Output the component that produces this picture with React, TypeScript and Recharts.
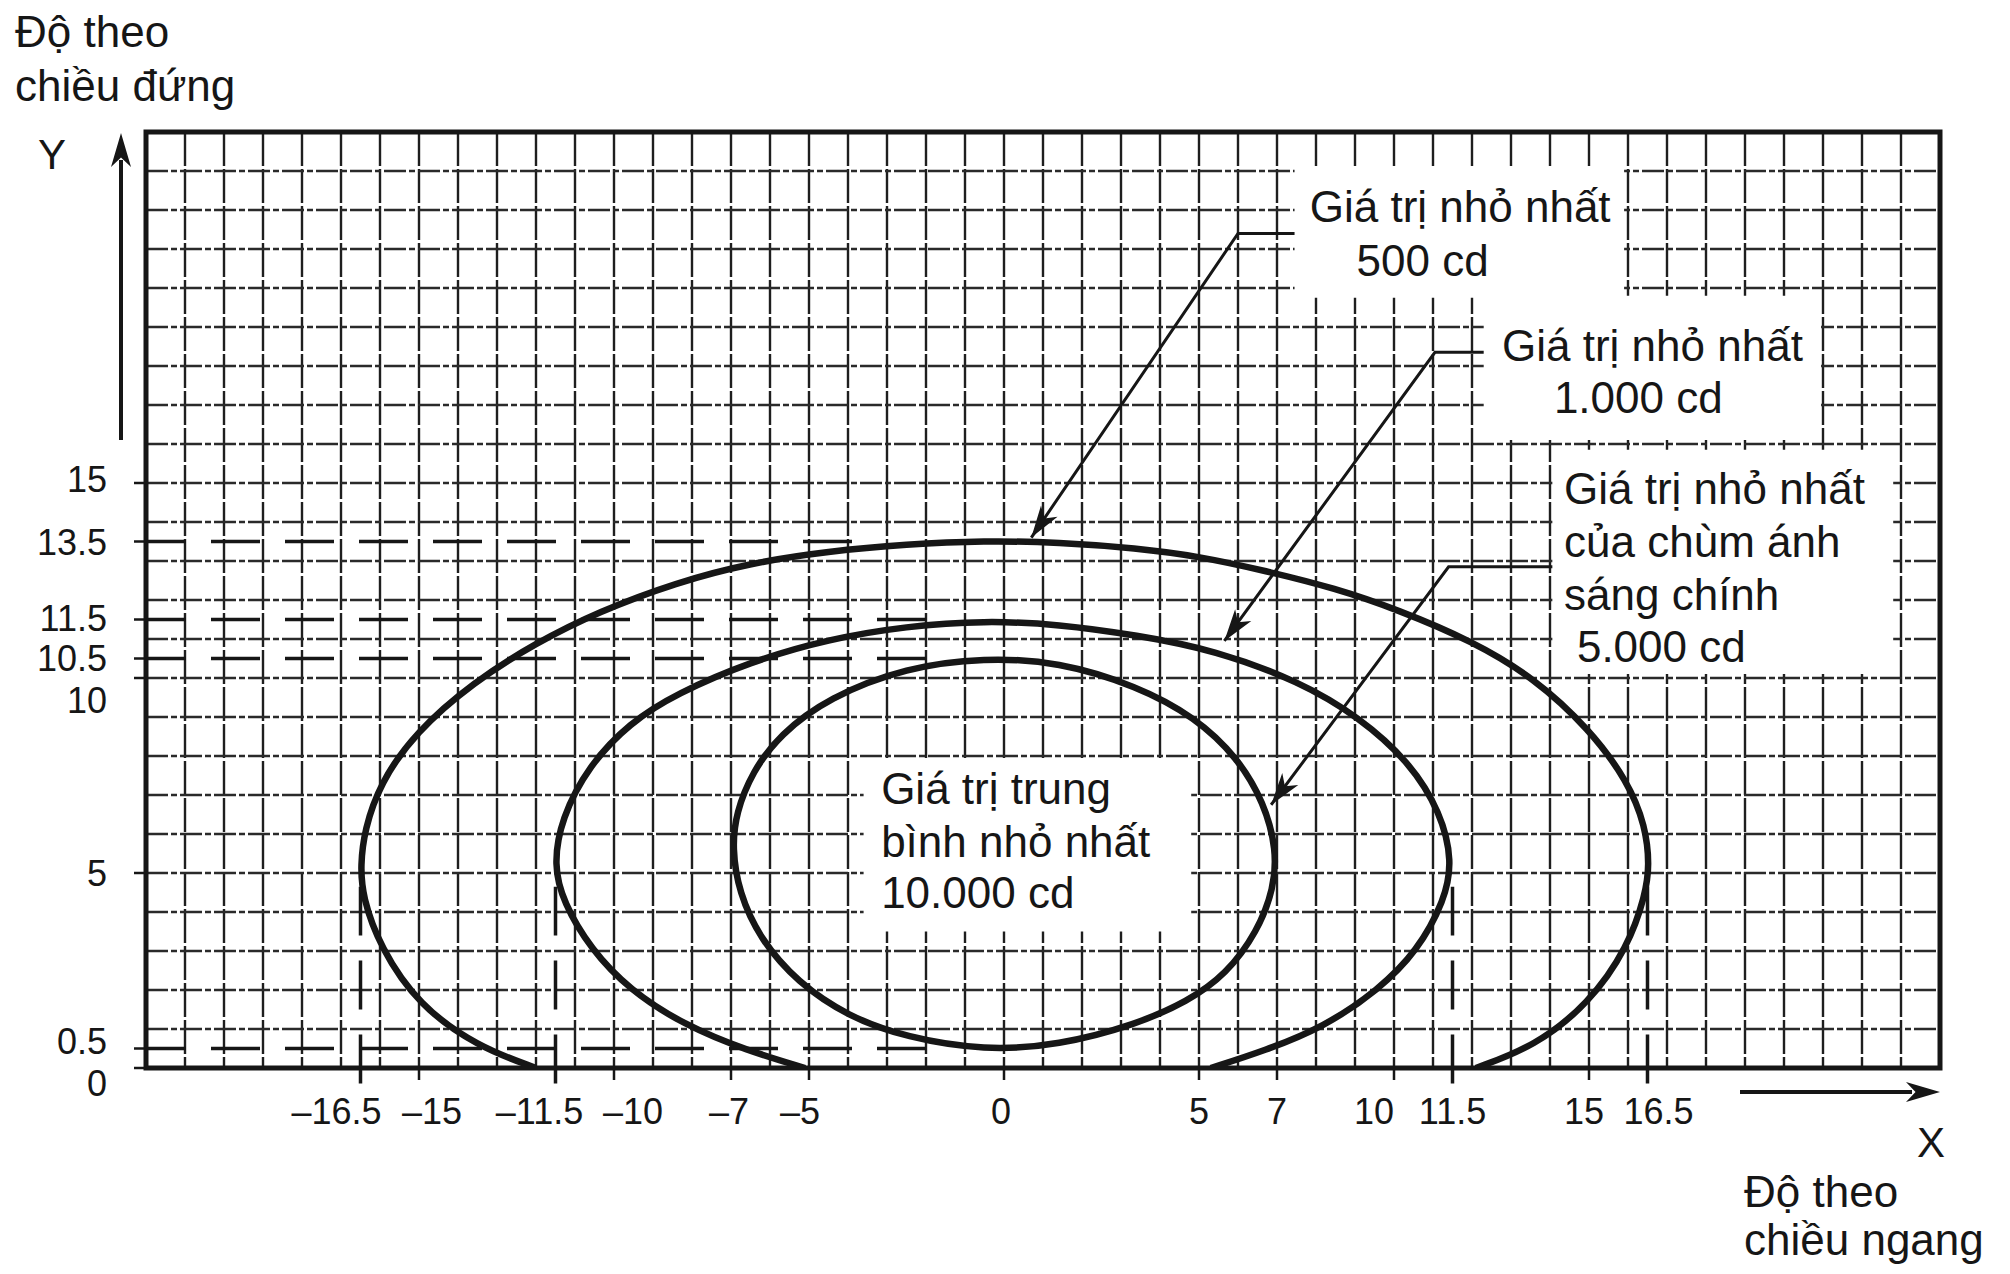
import React from "react";
import {
  ScatterChart,
  Scatter,
  XAxis,
  YAxis,
  CartesianGrid,
  ReferenceLine,
  ReferenceArea,
} from "recharts";

const W = 2010;
const H = 1274;
// plot frame in page pixels (chart margins are derived from it)
const PLOT = { left: 146, top: 132, right: 1940, bottom: 1068 };
const X_DOMAIN: [number, number] = [-22, 24];
const Y_DOMAIN: [number, number] = [0, 24];
const Y_AXIS_W = 100;
const X_AXIS_H = 80;

const FONT = '"Liberation Sans", Arial, "DejaVu Sans", sans-serif';
const INK = "#161616";

// axis ticks (degrees)
const xTicks = [-16.5, -15, -11.5, -10, -7, -5, 0, 5, 7, 10, 11.5, 15, 16.5];
const yTicks = [0, 0.5, 5, 10, 10.5, 11.5, 13.5, 15];

// 1 degree graph paper
const gridX = [-21, -20, -19, -18, -17, -16, -15, -14, -13, -12, -11, -10, -9, -8, -7, -6, -5, -4, -3, -2, -1, 0, 1, 2, 3, 4, 5, 6, 7, 8, 9, 10, 11, 12, 13, 14, 15, 16, 17, 18, 19, 20, 21, 22, 23];
const gridY = [1, 2, 3, 4, 5, 6, 7, 8, 9, 10, 11, 12, 13, 14, 15, 16, 17, 18, 19, 20, 21, 22, 23];

// isocandela contours
const curve500 = [
  { x: -12.0, y: 0 }, { x: -13.5, y: 0.55 }, { x: -15.0, y: 1.6 }, { x: -16.0, y: 3.1 },
  { x: -16.45, y: 4.4 }, { x: -16.5, y: 5.2 }, { x: -16.4, y: 6.1 }, { x: -16.0, y: 7.3 },
  { x: -15.1, y: 8.6 }, { x: -13.6, y: 9.9 }, { x: -12.0, y: 10.9 }, { x: -10.4, y: 11.7 },
  { x: -8.4, y: 12.45 }, { x: -6.5, y: 12.95 }, { x: -4.5, y: 13.25 }, { x: -2.5, y: 13.43 },
  { x: -0.5, y: 13.52 }, { x: 1.4, y: 13.48 }, { x: 3.4, y: 13.33 }, { x: 5.0, y: 13.12 },
  { x: 6.7, y: 12.75 }, { x: 8.5, y: 12.3 }, { x: 10.1, y: 11.75 }, { x: 12.0, y: 10.95 },
  { x: 13.6, y: 10.0 }, { x: 15.0, y: 8.7 }, { x: 16.0, y: 7.35 }, { x: 16.45, y: 6.2 },
  { x: 16.55, y: 5.2 }, { x: 16.45, y: 4.45 }, { x: 16.0, y: 3.1 }, { x: 15.0, y: 1.65 },
  { x: 13.6, y: 0.55 }, { x: 12.1, y: 0 },
];

const curve1000 = [
  { x: -5.1, y: 0 }, { x: -6.6, y: 0.45 }, { x: -8.2, y: 1.1 }, { x: -9.6, y: 2.0 },
  { x: -10.6, y: 3.05 }, { x: -11.3, y: 4.25 }, { x: -11.55, y: 5.2 }, { x: -11.35, y: 6.4 },
  { x: -10.65, y: 7.75 }, { x: -9.6, y: 8.85 }, { x: -8.4, y: 9.6 }, { x: -6.5, y: 10.42 },
  { x: -4.5, y: 11.0 }, { x: -2.5, y: 11.33 }, { x: -0.5, y: 11.47 }, { x: 1.4, y: 11.38 },
  { x: 3.4, y: 11.1 }, { x: 5.4, y: 10.72 }, { x: 7.6, y: 9.9 }, { x: 9.1, y: 9.0 },
  { x: 10.4, y: 7.85 }, { x: 11.2, y: 6.55 }, { x: 11.5, y: 5.3 }, { x: 11.3, y: 4.3 },
  { x: 10.6, y: 3.0 }, { x: 9.6, y: 2.0 }, { x: 8.2, y: 1.05 }, { x: 6.7, y: 0.45 },
  { x: 5.3, y: 0 },
];

// closed contour (drawn with a closed spline)
const curve5000 = [
  { x: -0.5, y: 0.45 }, { x: -2.5, y: 0.78 }, { x: -4.0, y: 1.32 }, { x: -5.3, y: 2.2 },
  { x: -6.25, y: 3.3 }, { x: -6.8, y: 4.5 }, { x: -6.97, y: 5.65 }, { x: -6.87, y: 6.55 },
  { x: -6.45, y: 7.6 }, { x: -5.75, y: 8.55 }, { x: -4.5, y: 9.5 }, { x: -2.5, y: 10.28 },
  { x: -0.5, y: 10.52 }, { x: 1.4, y: 10.42 }, { x: 3.4, y: 9.8 }, { x: 4.9, y: 9.0 },
  { x: 6.0, y: 7.95 }, { x: 6.67, y: 6.8 }, { x: 6.99, y: 5.6 }, { x: 6.92, y: 4.6 },
  { x: 6.5, y: 3.5 }, { x: 5.7, y: 2.4 }, { x: 4.7, y: 1.7 }, { x: 3.4, y: 1.12 },
  { x: 1.4, y: 0.58 },
];

// dashed guide lines: level and where the dashes stop
const hGuides = [
  { y: 13.5, toX: -3.8 },
  { y: 11.5, toX: -1.9 },
  { y: 10.5, toX: -1.9 },
  { y: 0.5, toX: -1.8 },
];
const vGuides = [-16.5, -11.5, 11.5, 16.5];

// small shifts of crowded tick labels (px)
const xNudge: Record<string, number> = {
  "-16.5": -24, "-15": 13, "-11.5": -16, "-10": 19, "-7": -2, "-5": -9,
  "0": -3, "10": -20, "15": -5, "16.5": 11,
};
const yNudge: Record<string, number> = {
  "0": 15, "0.5": -8, "10": 22, "10.5": -1, "11.5": -2, "15": -4,
};

// white boxes behind the callouts (data units)
const boxes = [
  { x1: 7.45, x2: 15.9, y1: 19.75, y2: 23.1 },
  { x1: 12.3, x2: 20.95, y1: 16.1, y2: 19.8 },
  { x1: 14.06, x2: 22.8, y1: 10.1, y2: 15.85 },
  { x1: -3.6, x2: 4.8, y1: 3.5, y2: 7.95 },
];

// callout texts: left x and baseline y (data units)
const callouts = [
  { x: 7.84, y: 21.68, text: "Giá trị nhỏ nhất" },
  { x: 9.04, y: 20.32, text: "500 cd" },
  { x: 12.77, y: 18.14, text: "Giá trị nhỏ nhất" },
  { x: 14.1, y: 16.79, text: "1.000 cd" },
  { x: 14.36, y: 14.45, text: "Giá trị nhỏ nhất" },
  { x: 14.36, y: 13.1, text: "của chùm ánh" },
  { x: 14.36, y: 11.74, text: "sáng chính" },
  { x: 14.69, y: 10.4, text: "5.000 cd" },
  { x: -3.15, y: 6.78, text: "Giá trị trung" },
  { x: -3.15, y: 5.41, text: "bình nhỏ nhất" },
  { x: -3.15, y: 4.09, text: "10.000 cd" },
];

// leader arrows: tail -> bend -> tip (data units)
const leaders: [number, number][][] = [
  [[7.45, 21.4], [6.0, 21.4], [0.7, 13.6]],
  [[12.3, 18.35], [11.05, 18.35], [5.65, 10.95]],
  [[14.06, 12.85], [11.4, 12.85], [6.85, 6.75]],
];

const sx = (v: number) =>
  PLOT.left + ((v - X_DOMAIN[0]) / (X_DOMAIN[1] - X_DOMAIN[0])) * (PLOT.right - PLOT.left);
const sy = (v: number) =>
  PLOT.bottom - ((v - Y_DOMAIN[0]) / (Y_DOMAIN[1] - Y_DOMAIN[0])) * (PLOT.bottom - PLOT.top);

const fmt = (v: number) => (v < 0 ? `–${Math.abs(v)}` : `${v}`);

function XTick(props: any) {
  const v = props.payload.value;
  return (
    <text
      x={props.x + (xNudge[String(v)] ?? 0)}
      y={PLOT.bottom + 56}
      textAnchor="middle"
      fontFamily={FONT}
      fontSize={36}
      fill={INK}
    >
      {fmt(v)}
    </text>
  );
}

function YTick(props: any) {
  const v = props.payload.value;
  return (
    <text
      x={PLOT.left - 39}
      y={props.y + (yNudge[String(v)] ?? 0) + 13}
      textAnchor="end"
      fontFamily={FONT}
      fontSize={36}
      fill={INK}
    >
      {v}
    </text>
  );
}

const noDot = () => <g />;

function headPoints(tx: number, ty: number, ang: number, len: number, half: number) {
  const bx = tx - len * Math.cos(ang);
  const by = ty - len * Math.sin(ang);
  const nx = tx - len * 0.72 * Math.cos(ang);
  const ny = ty - len * 0.72 * Math.sin(ang);
  const lx = bx + half * Math.sin(ang);
  const ly = by - half * Math.cos(ang);
  const rx = bx - half * Math.sin(ang);
  const ry = by + half * Math.cos(ang);
  return `${tx},${ty} ${lx},${ly} ${nx},${ny} ${rx},${ry}`;
}

function Leader({ pts }: { pts: [number, number][] }) {
  const p = pts.map(([x, y]) => [sx(x), sy(y)]);
  const [ax, ay] = p[p.length - 2];
  const [tx, ty] = p[p.length - 1];
  const ang = Math.atan2(ty - ay, tx - ax);
  return (
    <g>
      <polyline
        points={p.map((q) => q.join(",")).join(" ")}
        fill="none"
        stroke={INK}
        strokeWidth={3}
      />
      <polygon points={headPoints(tx, ty, ang, 32, 10)} fill={INK} />
    </g>
  );
}

function Overlay() {
  return (
    <svg
      width={W}
      height={H}
      style={{ position: "absolute", left: 0, top: 0, pointerEvents: "none" }}
    >
      <rect
        x={PLOT.left}
        y={PLOT.top}
        width={PLOT.right - PLOT.left}
        height={PLOT.bottom - PLOT.top}
        fill="none"
        stroke={INK}
        strokeWidth={5}
      />
      {leaders.map((l, i) => (
        <Leader key={i} pts={l} />
      ))}
      <g fontFamily={FONT} fontSize={44} fill={INK}>
        {callouts.map((c, i) => (
          <text key={i} x={sx(c.x)} y={sy(c.y)}>
            {c.text}
          </text>
        ))}
        <text x={15} y={47}>Độ theo</text>
        <text x={15} y={101}>chiều đứng</text>
        <text x={38} y={169} fontSize={42}>Y</text>
        <text x={1917} y={1157} fontSize={42}>X</text>
        <text x={1744} y={1207}>Độ theo</text>
        <text x={1744} y={1255}>chiều ngang</text>
      </g>
      {/* axis direction arrows */}
      <line x1={121} y1={440} x2={121} y2={160} stroke={INK} strokeWidth={4} />
      <polygon points={headPoints(121, 133, -Math.PI / 2, 34, 10)} fill={INK} />
      <line x1={1740} y1={1092} x2={1912} y2={1092} stroke={INK} strokeWidth={4} />
      <polygon points={headPoints(1940, 1092, 0, 34, 10)} fill={INK} />
    </svg>
  );
}

export default function App() {
  return (
    <div
      style={{
        position: "absolute",
        left: 0,
        top: 0,
        width: W,
        height: H,
        background: "#fff",
      }}
    >
      <ScatterChart
        width={W}
        height={H}
        margin={{
          top: PLOT.top,
          right: W - PLOT.right,
          bottom: H - PLOT.bottom - X_AXIS_H,
          left: PLOT.left - Y_AXIS_W,
        }}
      >
        <CartesianGrid
          horizontal={false}
          verticalPoints={gridX.map(sx)}
          stroke="#1e1e1e"
          strokeWidth={2.4}
          strokeDasharray="34 3"
        />
        <CartesianGrid
          vertical={false}
          horizontalPoints={gridY.map(sy)}
          stroke="#2a2a2a"
          strokeWidth={2.3}
          strokeDasharray="22 3 6 3"
        />
        <XAxis
          type="number"
          dataKey="x"
          domain={X_DOMAIN}
          ticks={xTicks}
          interval={0}
          allowDataOverflow
          height={X_AXIS_H}
          axisLine={false}
          tickSize={12}
          tickLine={{ stroke: INK, strokeWidth: 2.5 }}
          tick={(p: any) => <XTick {...p} />}
        />
        <YAxis
          type="number"
          dataKey="y"
          domain={Y_DOMAIN}
          ticks={yTicks}
          interval={0}
          allowDataOverflow
          width={Y_AXIS_W}
          axisLine={false}
          tickSize={12}
          tickLine={{ stroke: INK, strokeWidth: 2.5 }}
          tick={(p: any) => <YTick {...p} />}
        />
        {boxes.map((b, i) => (
          <ReferenceArea
            key={`box-${i}`}
            x1={b.x1}
            x2={b.x2}
            y1={b.y1}
            y2={b.y2}
            fill="#fff"
            fillOpacity={1}
            stroke="none"
          />
        ))}
        {hGuides.map((g) => (
          <ReferenceLine
            key={`h-${g.y}`}
            segment={[
              { x: X_DOMAIN[0], y: g.y },
              { x: g.toX, y: g.y },
            ]}
            stroke={INK}
            strokeWidth={3.5}
            strokeDasharray="49 25"
            strokeDashoffset={9}
            ifOverflow="visible"
          />
        ))}
        {vGuides.map((x) => (
          <ReferenceLine
            key={`v-${x}`}
            segment={[
              { x, y: -0.4 },
              { x, y: 4.65 },
            ]}
            stroke={INK}
            strokeWidth={3.5}
            strokeDasharray="49 25"
            ifOverflow="visible"
          />
        ))}
        <Scatter
          data={curve500}
          fill={INK}
          line={{ stroke: INK, strokeWidth: 6.5 }}
          lineJointType="basis"
          shape={noDot}
          isAnimationActive={false}
        />
        <Scatter
          data={curve1000}
          fill={INK}
          line={{ stroke: INK, strokeWidth: 6.5 }}
          lineJointType="basis"
          shape={noDot}
          isAnimationActive={false}
        />
        <Scatter
          data={curve5000}
          fill={INK}
          line={{ stroke: INK, strokeWidth: 6.5 }}
          lineJointType="basisClosed"
          shape={noDot}
          isAnimationActive={false}
        />
      </ScatterChart>
      <Overlay />
    </div>
  );
}
